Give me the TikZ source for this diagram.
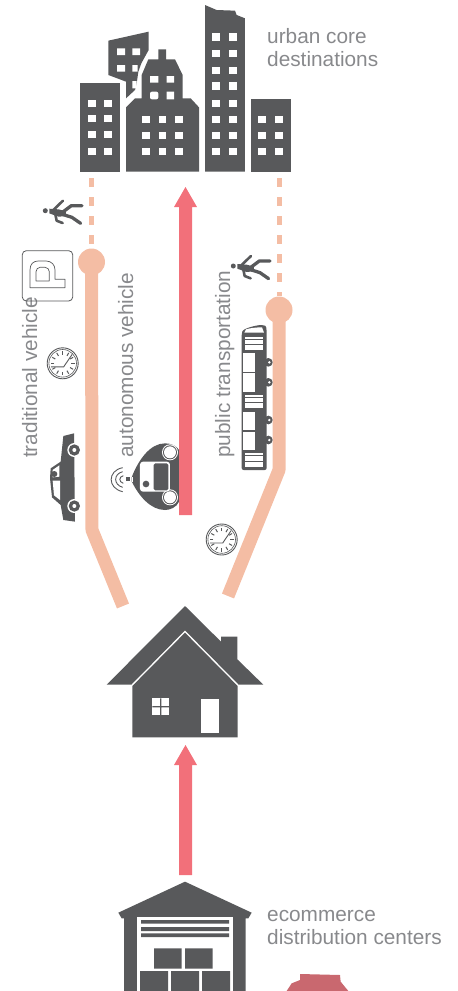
\documentclass[tikz,border=0pt]{standalone}
\usepackage{fontspec}
\setmainfont{Liberation Sans}
\definecolor{dk}{HTML}{58595B}
\definecolor{peach}{HTML}{F4BDA4}
\definecolor{rd}{HTML}{F2707A}
\definecolor{txt}{HTML}{88898C}
\definecolor{blob}{HTML}{C9686F}
\tikzset{
  dkfill/.style={fill=dk,draw=none},
  wh/.style={fill=white,draw=none},
  lab/.style={text=txt,font=\fontsize{20.8}{23}\selectfont,inner sep=0pt},
  route/.style={draw=peach,line width=13pt,line join=round},
  dashroute/.style={draw=peach,line width=5pt,dash pattern=on 9pt off 10pt},
  stopdot/.style={circle,fill=peach,minimum size=27pt,inner sep=0pt},
  bigarrow/.style={draw=none,fill=rd},
  limb/.style={draw=dk,line cap=round,line join=round}
}
\newcommand{\walker}[2]{\begin{scope}[shift={(#1,#2)},scale=1/3]
  \fill[dkfill] (0,0) circle (7.5);
  \fill[dkfill] (12,-6) -- (40,-4) -- (62,2) -- (62,16) -- (40,18) -- (12,8) -- cycle;
  \draw[limb,line width=3.3pt] (50,6) -- (78,-15) -- (110,-15);
  \draw[limb,line width=3.3pt] (55,12) -- (80,20) -- (106,38);
  \draw[limb,line width=2.6pt] (25,-3) -- (53,-30);
  \draw[limb,line width=2.6pt] (30,10) -- (34,30) -- (52,37);
\end{scope}}
\newcommand{\clock}[2]{\begin{scope}[shift={(#1,#2)}]
  \draw[draw=dk,line width=.9pt] (0,0) circle (15.5);
  \draw[draw=dk,line width=.6pt] (0,0) circle (13.8);
  \foreach \a in {0,30,...,330}{\draw[draw=dk,line width=1pt] (\a:8.5) -- (\a:12);}
  \draw[draw=dk,line width=.9pt] (-11.5,3.5) -- (1,3.5) -- (9.5,-9);
\end{scope}}
\begin{document}
\begin{tikzpicture}[x=1pt,y=-1pt]
\useasboundingbox (0,0) rectangle (458,991);
% city
\begin{scope}[shift={(70,0)},scale=1/3]
  \fill[dkfill] (29,250) rectangle (151,515);
  \foreach \y in {300,345,393,443}{\fill[wh] (55,\y) rectangle +(23,22);\fill[wh] (102,\y) rectangle +(23,22);}
  \fill[dkfill] (115,122) -- (236,95) -- (236,150) -- (214,190) -- (205,215) -- (200,250) -- (195,270) -- (168,295) -- (168,245) -- (115,225) -- cycle;
  \fill[wh] (141,145) rectangle (165,165) (187,145) rectangle (210,165) (141,195) rectangle (165,215) (187,195) rectangle (203,215) (187,243) rectangle (200,265);
  \fill[dkfill] (168,322) -- (195,295) -- (215,295) -- (215,225) -- (235,178) -- (265,178) -- (265,148) -- (288,148) -- (288,178) -- (315,178) -- (338,225) -- (338,295) -- (362,295) -- (387,322) -- (387,515) -- (168,515) -- cycle;
  \fill[wh] (240,228) rectangle (265,248) (290,228) rectangle (312,248) (290,275) rectangle (312,298);
  \fill[wh,rounded corners=2pt] (240,275) rectangle (265,298);
  \foreach \x in {217,266,316}{\foreach \y in {348,395,443}{\fill[wh] (\x,\y) rectangle +(23,22);}}
  \fill[dkfill] (405,15) -- (440,30) -- (495,32) -- (500,45) -- (525,55) -- (525,515) -- (405,515) -- cycle;
  \foreach \y in {100,150,200,247,300,347,395,443}{\fill[wh] (427,\y) rectangle +(23,22);\fill[wh] (477,\y) rectangle +(23,22);}
  \fill[dkfill] (543,296) rectangle (663,515);
  \foreach \y in {347,395,443}{\fill[wh] (565,\y) rectangle +(23,22);\fill[wh] (615,\y) rectangle +(23,22);}
\end{scope}
\node[lab,anchor=base west] (urb1) at (267,43) {urban core};
\node[lab,anchor=base west] (urb2) at (267,66) {destinations};
% routes
\coordinate (ltop) at (91.5,178);
\node[stopdot] (lstop) at (91.5,262) {};
\coordinate (lbend) at (92,530);
\coordinate (lend) at (123,606);
\coordinate (rtop) at (279,178);
\node[stopdot] (rstop) at (279,310) {};
\coordinate (rbend) at (279,470);
\coordinate (rend) at (228,596);
\draw[dashroute] (ltop) -- (lstop.north);
\draw[dashroute] (rtop) -- (rstop.north);
\draw[route] (lstop.center) -- (lbend) -- (lend);
\draw[route] (rstop.center) -- (rbend) -- (rend);
% red arrows
\fill[bigarrow] (179,515) -- (179,207) -- (174,207) -- (185.5,187) -- (197,207) -- (192,207) -- (192,515) -- cycle;
\fill[bigarrow] (179,875) -- (179,765) -- (174,765) -- (185.5,745) -- (197,765) -- (192,765) -- (192,875) -- cycle;
% labels
\node[lab,rotate=90,anchor=base west] (l1) at (37,458) {traditional vehicle};
\node[lab,rotate=90,anchor=base west] (l2) at (133,458) {autonomous vehicle};
\node[lab,rotate=90,anchor=base west] (l3) at (230,458) {public transportation};
% walkers, clocks, P
\walker{45.3}{210.7}
\walker{233.3}{266}
\clock{62.7}{363.3}
\clock{221.7}{539.5}
\draw[draw=dk,line width=.8pt,rounded corners=4pt] (22.3,250.7) rectangle (72.7,301);
\begin{scope}[shift={(10,190)},scale=1/3]
  \draw[draw=dk,line width=.7pt,line join=round] (165,293) -- (60,293) -- (60,240) .. controls (60,222) and (70,213) .. (85,213) -- (108,213) .. controls (125,213) and (135,225) .. (135,240) -- (135,268) -- (165,268) -- cycle;
  \draw[draw=dk,line width=.7pt,line join=round] (78,273) -- (118,273) -- (118,245) .. controls (118,238) and (112,232) .. (105,232) -- (90,232) .. controls (84,232) and (78,238) .. (78,245) -- cycle;
\end{scope}
% car
\begin{scope}[shift={(30,420)},scale=1/3]
  \fill[dkfill] (100,48) -- (132,40) -- (135,305) -- (100,300) -- (92,255) -- (66,232) -- (60,175) -- (62,145) -- (92,125) -- cycle;
  \fill[wh] (68,150) -- (88,136) -- (88,170) -- (68,172) -- cycle;
  \fill[wh] (68,182) -- (90,182) -- (90,240) -- (72,226) -- cycle;
  \fill[dkfill] (73,162) circle (9);
  \foreach \y in {90,258}{\fill[wh] (133,\y) circle (21);\fill[dkfill] (133,\y) circle (17);\fill[wh] (133,\y) circle (6);}
\end{scope}
% autonomous
\begin{scope}[shift={(30,420)},scale=1/3]
  \fill[dkfill] (305,172) .. controls (325,120) and (360,70) .. (405,70) .. controls (425,70) and (440,78) .. (447,90) -- (447,245) .. controls (440,262) and (420,270) .. (405,270) .. controls (360,270) and (325,225) .. (305,184) -- cycle;
  \foreach \y in {97,232}{\fill[wh] (420,\y) circle (24);\fill[dkfill] (420,\y) circle (21);\fill[wh] (420,\y) circle (18);}
  \fill[wh,rounded corners=3pt] (330,125) rectangle (420,215);
  \fill[dkfill,rounded corners=1.5pt] (371,130) rectangle (415,211);
  \fill[dkfill] (348,192) circle (10);
  \fill[dkfill] (288,172) rectangle (300,184);
  \fill[wh] (305,170) -- (310,170) -- (310,186) -- (305,186) -- cycle;
  \draw[draw=dk,line width=.9pt] (280,167) .. controls (266,170) and (266,186) .. (280,190);
  \draw[draw=dk,line width=.9pt] (278,155) .. controls (250,162) and (250,194) .. (278,202);
  \draw[draw=dk,line width=.9pt] (278,143) .. controls (232,152) and (232,205) .. (278,215);
\end{scope}
% bus
\begin{scope}[shift={(200,240)},scale=1/3]
  \fill[dkfill,rounded corners=2pt] (125,280) .. controls (130,265) and (170,255) .. (190,255) .. controls (198,258) and (200,265) .. (200,280) -- (200,690) -- (125,690) -- cycle;
  \fill[wh] (138,268) .. controls (150,264) and (170,262) .. (186,262) -- (192,278) -- (133,278) -- cycle;
  \foreach \y in {290,465,640}{\fill[wh] (135,\y) rectangle (190,\y+40);\fill[dkfill] (135,\y+6) rectangle (190,\y+9);\fill[dkfill] (135,\y+22) rectangle (190,\y+25);}
  \foreach \y in {340,400,515,575}{\fill[wh] (130,\y) rectangle (165,\y+55);}
  \foreach \y in {367,427,540,600}{\fill[dkfill] (205,\y) circle (13);\fill[wh] (208,\y) circle (4);}
\end{scope}
% house
\begin{scope}[shift={(100,600)},scale=1/3]
  \fill[dkfill] (255,18) -- (20,254) -- (94,254) -- (255,91) -- (416,254) -- (490,254) -- (412,178) -- (412,110) -- (363,110) -- (363,125) -- cycle;
  \fill[dkfill] (97,258) -- (255,98) -- (413,258) -- (413,412) -- (97,412) -- cycle;
  \fill[wh] (157,295) rectangle (207,345);
  \fill[dkfill] (180,295) rectangle (184,345) (157,318) rectangle (207,322);
  \fill[wh] (302,296) rectangle (356,398);
\end{scope}
% warehouse
\begin{scope}[shift={(100,870)},scale=1/3]
  \fill[dkfill] (55,128) -- (255,35) -- (455,128) -- (445,145) -- (437,145) -- (437,363) -- (72,363) -- (72,145) -- (65,145) -- cycle;
  \fill[wh] (112,140) rectangle (398,363);
  \fill[dkfill] (123,150) rectangle (387,161) (123,171) rectangle (387,183) (123,190) rectangle (387,201);
  \fill[dkfill] (162,235) rectangle (245,296) (255,235) rectangle (338,296) (120,303) rectangle (204,363) (213,303) rectangle (297,363) (306,303) rectangle (390,363);
  \fill[blob] (560,363) -- (575,340) -- (600,330) -- (600,312) -- (720,315) -- (722,335) -- (745,363) -- cycle;
\end{scope}
\node[lab,anchor=base west] (ec1) at (267,921) {ecommerce};
\node[lab,anchor=base west] (ec2) at (267,944) {distribution centers};
\end{tikzpicture}
\end{document}
